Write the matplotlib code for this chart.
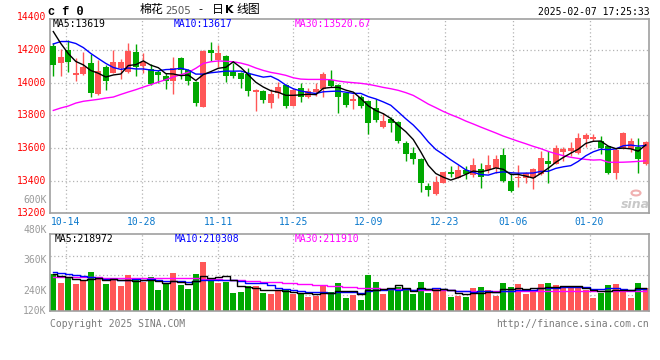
import numpy as np
import matplotlib
matplotlib.use("Agg")
import matplotlib.pyplot as plt
import matplotlib.transforms as mtransforms
from matplotlib.patches import Circle

# ---------------- data ----------------
opens = [14224, 14122, 14200, 14049, 14053, 14118, 13928, 14094, 14061, 14088,
         14067, 14186, 14104, 14082, 14067, 14043, 14012, 14149, 14077, 14006,
         13853, 14200, 14139, 14163, 14063, 14061, 14051, 13945, 13951, 13873,
         13935, 13986, 13859, 13969, 13910, 13941, 13959, 14016, 13986, 13935,
         13890, 13914, 13888, 13847, 13726, 13777, 13761, 13632, 13571, 13533,
         13369, 13318, 13388, 13451, 13418, 13465, 13435, 13471, 13465, 13475,
         13555, 13398, 13414, 13414, 13414, 13441, 13520, 13502, 13577, 13582,
         13567, 13655, 13657, 13643, 13612, 13449, 13598, 13592, 13604, 13500]
highs = [14240, 14204, 14262, 14149, 14190, 14175, 14139, 14108, 14200, 14143,
         14245, 14237, 14184, 14114, 14077, 14057, 14159, 14155, 14082, 14010,
         14200, 14251, 14230, 14170, 14118, 14065, 14088, 13960, 13955, 13960,
         14006, 13990, 13965, 13996, 13969, 14000, 14063, 14077, 13990, 13945,
         13930, 13924, 13890, 13898, 13812, 13792, 13765, 13645, 13604, 13540,
         13384, 13430, 13455, 13490, 13496, 13490, 13541, 13506, 13557, 13557,
         13602, 13449, 13496, 13451, 13475, 13582, 13582, 13618, 13608, 13639,
         13690, 13690, 13683, 13675, 13615, 13602, 13700, 13659, 13659, 13643]
lows = [14041, 14041, 14067, 14012, 14047, 13914, 13924, 13955, 14057, 14020,
        14061, 14043, 14057, 13986, 13996, 13959, 13928, 14020, 13986, 13859,
        13850, 14135, 14098, 14006, 14030, 13969, 13920, 13826, 13873, 13847,
        13908, 13847, 13855, 13884, 13904, 13918, 13914, 13975, 13816, 13853,
        13839, 13843, 13686, 13761, 13720, 13700, 13632, 13522, 13502, 13333,
        13306, 13312, 13384, 13420, 13414, 13410, 13424, 13357, 13449, 13449,
        13394, 13328, 13363, 13388, 13349, 13435, 13388, 13500, 13522, 13553,
        13565, 13608, 13643, 13561, 13441, 13412, 13592, 13577, 13449, 13496]
closes = [14108, 14155, 14128, 14061, 14094, 13935, 14071, 14012, 14124, 14124,
          14194, 14098, 14128, 13992, 14047, 14012, 14088, 14077, 14012, 13877,
          14194, 14179, 14179, 14043, 14043, 14022, 13951, 13955, 13896, 13930,
          13973, 13859, 13955, 13910, 13949, 13961, 14053, 13981, 13914, 13863,
          13900, 13859, 13755, 13771, 13765, 13755, 13645, 13563, 13530, 13388,
          13343, 13394, 13451, 13441, 13465, 13441, 13496, 13424, 13496, 13533,
          13398, 13339, 13424, 13445, 13471, 13541, 13502, 13602, 13594, 13602,
          13663, 13679, 13667, 13602, 13445, 13588, 13694, 13645, 13530, 13639]
volumes = [278500, 244000, 268000, 240000, 252000, 286000, 261000, 240000, 259000, 232000,
           274600, 255000, 248000, 265000, 216000, 238000, 282500, 236000, 220000, 278500,
           327000, 255000, 243000, 246000, 204000, 207000, 231000, 231000, 204000, 199000,
           210000, 215000, 200000, 202000, 189000, 193000, 230000, 207000, 243000, 183000,
           196500, 175600, 274600, 247000, 199000, 219000, 226000, 216000, 199000, 247000,
           203000, 219000, 219000, 187000, 191000, 187000, 223000, 227000, 215000, 193000,
           243000, 227000, 239000, 199000, 215000, 239000, 243000, 235000, 223000, 224000,
           227000, 214000, 185000, 203000, 235000, 239000, 219000, 185000, 243000, 224000]
ma30 = [13830, 13845, 13857, 13875, 13886, 13892, 13898, 13906, 13912, 13928,
        13943, 13957, 13973, 13988, 14004, 14018, 14035, 14049, 14063, 14088,
        14118, 14128, 14133, 14131, 14128, 14120, 14108, 14090, 14075, 14063,
        14055, 14045, 14030, 14022, 14020, 14020, 14020, 14018, 14010, 14004,
        14000, 13996, 13990, 13981, 13971, 13963, 13953, 13939, 13922, 13896,
        13869, 13847, 13824, 13804, 13786, 13765, 13747, 13728, 13710, 13692,
        13673, 13657, 13641, 13626, 13610, 13596, 13579, 13565, 13553, 13543,
        13536, 13530, 13526, 13528, 13513, 13512, 13513, 13515, 13518, 13521]
ma5_head = [14313, 14240, 14178, 14130]
ma10_head = [14237, 14252, 14252, 14240, 14215, 14179, 14148, 14118, 14093]
vol_ma30 = [266000, 266000, 265500, 265500, 265000, 265000, 265000, 264500, 264500, 264000,
            264000, 263500, 263000, 263000, 262500, 262500, 262000, 262000, 261500, 261000,
            260000, 259000, 257500, 256000, 254500, 253000, 251500, 250000, 248500, 247000,
            245500, 244000, 242000, 240000, 238000, 236000, 234000, 232000, 229500, 227500,
            226000, 224500, 223000, 222000, 221000, 220000, 219000, 218000, 217000, 216000,
            215000, 214500, 214000, 213500, 213000, 212500, 212000, 211500, 211000, 210500,
            210000, 210000, 210000, 209500, 209500, 209500, 209500, 210000, 210000, 210500,
            210500, 211000, 211000, 211500, 211500, 212000, 212000, 212000, 212000, 211910]
vol_ma5_head = [278000, 272000, 266000, 260000]
vol_ma10_head = [288000, 284000, 280000, 276000, 272000, 266000, 263000, 260000, 258000]

date_labels = ['10-14', '10-28', '11-11', '11-25', '12-09', '12-23', '01-06', '01-20']
date_pos = [2.05, 12.2, 22.4, 32.4, 42.4, 52.6, 61.7, 71.9]
price_labels = [14400, 14200, 14000, 13800, 13600, 13400, 13200]
price_grid = [14200, 14000, 13800, 13600, 13400]
vol_label_values = [600000, 480000, 360000, 240000, 120000]
vol_label_texts = ['600K', '480K', '360K', '240K', '120K']

# ---------------- helpers ----------------
def moving_average(values, n, head):
    out = list(head)
    for i in range(len(head), len(values)):
        out.append(float(np.mean(values[i - n + 1:i + 1])))
    return np.array(out)

o = np.array(opens, float); h = np.array(highs, float)
l = np.array(lows, float); c = np.array(closes, float)
v = np.array(volumes, float)
n = len(c)
x = np.arange(n)
ma5 = moving_average(c, 5, ma5_head)
ma10 = moving_average(c, 10, ma10_head)
vma5 = moving_average(v, 5, vol_ma5_head)
vma10 = moving_average(v, 10, vol_ma10_head)

RED = '#ff5757'
GREEN = '#00a800'
GRID = '#b4b4b4'
FRAME = '#a0a0a0'
MONO = 'DejaVu Sans Mono'

W, H = 660, 360
fig = plt.figure(figsize=(W / 100, H / 100), dpi=100)
fig.patch.set_facecolor('white')

def box(left, top, right, bottom):
    return [left / W, 1 - bottom / H, (right - left) / W, (bottom - top) / H]

def ftext(px, py, s, **kw):
    kw.setdefault('family', MONO)
    kw.setdefault('fontsize', 7)
    kw.setdefault('va', 'center')
    return fig.text(px / W, 1 - py / H, s, **kw)

ax = fig.add_axes(box(50.3, 19, 649.3, 213.3))
axv = fig.add_axes(box(50.3, 234.3, 649.3, 311))

for a in (ax, axv):
    a.set_xlim(0, n - 0.13)
    a.set_xticks([]); a.set_yticks([])
    for s in a.spines.values():
        s.set_color(FRAME); s.set_linewidth(1.2)
    for d in date_pos:
        a.axvline(d, color=GRID, lw=0.9, ls=(0, (1, 2)), zorder=0)

ax.set_ylim(13200, 14390)
for p in price_grid:
    ax.axhline(p, color=GRID, lw=0.9, ls=(0, (1, 2)), zorder=0)

up = c >= o
cols = np.where(up, RED, GREEN)
body_lo = np.minimum(o, c)
body_h = np.maximum(np.abs(c - o), 6)
ax.vlines(x + 0.4, l, h, colors=cols, lw=1.0, zorder=2)
ax.bar(x, body_h, bottom=body_lo, width=0.8, align='edge', color=cols, lw=0, zorder=3)
ax.plot(x + 0.4, ma30, color='#ff00ff', lw=1.0, zorder=4)
ax.plot(x + 0.4, ma10, color='#0000ff', lw=1.0, zorder=4)
ax.plot(x + 0.4, ma5, color='black', lw=1.0, zorder=4)

# volume panel
vbot = 132000
vtop = vbot + 76.7 * 3960
axv.set_ylim(vbot, vtop)
for f in (0.721, 0.465, 0.209):
    axv.plot([0, 1], [f, f], transform=axv.transAxes, color=GRID, lw=0.9,
             ls=(0, (1, 2)), zorder=0)
axv.bar(x, v, width=0.8, align='edge', color=cols, lw=0, zorder=2)
axv.plot(x + 0.4, vol_ma30, color='#ff00ff', lw=1.0, drawstyle='steps-mid', zorder=3)
axv.plot(x + 0.4, vma10, color='#0000ff', lw=1.0, drawstyle='steps-mid', zorder=3)
axv.plot(x + 0.4, vma5, color='black', lw=1.0, drawstyle='steps-mid', zorder=3)

# price labels (red)
tp = mtransforms.blended_transform_factory(fig.transFigure, ax.transData)
for p in price_labels:
    ax.text(46.5 / W, p, str(p), transform=tp, ha='right', va='center', color='#ff0000',
            family=MONO, fontsize=7, clip_on=False)

# volume labels (gray), drawn just below their value
tv = mtransforms.blended_transform_factory(fig.transFigure, axv.transData)
tv_off = mtransforms.offset_copy(tv, fig=fig, x=0, y=-7, units='dots')
for val, s in zip(vol_label_values, vol_label_texts):
    if val < vbot:
        axv.text(46.5 / W, vbot, s, transform=tv, ha='right', va='center', color='#9a9a9a',
                 family=MONO, fontsize=7, clip_on=False)
    else:
        axv.text(46.5 / W, val, s, transform=tv_off, ha='right', va='center', color='#9a9a9a',
                 family=MONO, fontsize=7, clip_on=False)

# date labels
td = mtransforms.blended_transform_factory(ax.transData, fig.transFigure)
for d, s in zip(date_pos, date_labels):
    ax.text(d, 1 - 221.7 / H, s, transform=td, ha='center', va='center', color='#0a78cc',
            family=MONO, fontsize=7, clip_on=False)

# header
ftext(48.5, 12, 'c f 0', family='Liberation Mono', fontweight='bold', fontsize=8.6, ha='left')
ftext(140, 9.5, '棉花', family='Noto Sans CJK SC', fontsize=8.6, ha='left')
ftext(165, 10.5, '2505', family='DejaVu Sans', fontsize=7.4, color='#555555', ha='left')
ftext(198, 9.5, '-', family='DejaVu Sans', fontsize=8, ha='left')
ftext(212, 9.5, '日', family='Noto Sans CJK SC', fontsize=8.6, ha='left')
ftext(225, 10, 'K', family='DejaVu Sans', fontsize=8, fontweight='bold', ha='left')
ftext(236, 9.5, '线图', family='Noto Sans CJK SC', fontsize=8.6, ha='left')
ftext(649.3, 11.7, '2025-02-07 17:25:33', ha='right')

ftext(53, 24, 'MA5:13619', ha='left', color='black')
ftext(173.3, 24, 'MA10:13617', ha='left', color='#0000ff')
ftext(294.3, 24, 'MA30:13520.67', ha='left', color='#ff00ff')

ftext(54.3, 239, 'MA5:218972', ha='left', color='black')
ftext(175, 239, 'MA10:210308', ha='left', color='#0000ff')
ftext(294.7, 239, 'MA30:211910', ha='left', color='#ff00ff')

ftext(50, 324, 'Copyright 2025 SINA.COM', ha='left', color='#7a7a7a')
ftext(649.3, 324, 'http://finance.sina.com.cn', ha='right', color='#7a7a7a')

# sina watermark
fig.patches.append(Circle((636 / W, 1 - 193 / H), 4.5 / W, transform=fig.transFigure,
                          fill=False, ec='#f0b0b0', lw=1.5))
ftext(635, 204, 'sina', family='DejaVu Sans', fontsize=9, fontweight='bold',
      style='italic', color='#c8c8c8', ha='center')

fig.savefig('out.png', dpi=100, facecolor='white')
